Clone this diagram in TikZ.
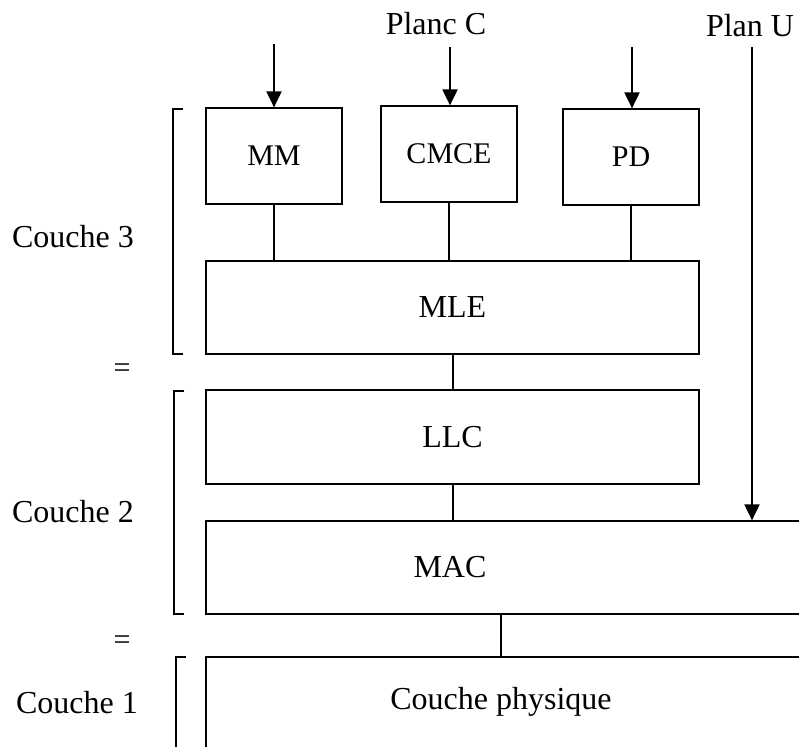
\documentclass[tikz,border=0pt]{standalone}
\usepackage{fontspec}
\setmainfont{Liberation Serif}
\usetikzlibrary{arrows.meta}

\begin{document}
\begin{tikzpicture}
  [x=0.5pt,y=-0.5pt,
   small_style/.style={draw,line width=0.6pt,minimum width=68pt,minimum height=48pt,inner sep=0pt,font=\fontsize{15}{17}\selectfont},
   layer_style/.style={draw,line width=0.6pt,minimum width=246.5pt,minimum height=47pt,inner sep=0pt,font=\fontsize{16}{19}\selectfont},
   open_style/.style={draw,line width=0.6pt,minimum width=312pt,inner sep=0pt,font=\fontsize{16}{19}\selectfont},
   text_style/.style={font=\fontsize{16}{19}\selectfont},
   edge_style/.style={draw=black,line width=1pt},
   arrow_style/.style={-{Triangle[length=8pt,width=7.5pt]},line width=1pt}]
  \useasboundingbox (0,0) rectangle (799,747);
  \clip (0,0) rectangle (799,747);
  % couche 3
  \node[small_style] (mm) at (274,156) {MM};
  \node[small_style] (cmce) at (449,154) {CMCE};
  \node[small_style] (pd) at (631,157) {PD};
  \node[layer_style,minimum height=46.5pt] (mle) at (452.5,307.5) {MLE};
  % couche 2
  \node[layer_style] (llc) at (452.5,437) {LLC};
  \node[open_style,minimum height=46.5pt,label={[text_style,xshift=-34pt]center:MAC}] (mac) at (518,567.5) {};
  % couche 1
  \node[open_style,minimum height=71.5pt,label={[text_style,name=phys_lbl,xshift=-8.5pt,yshift=13.25pt]center:Couche physique}] (phys) at (518,728.5) {};
  % plans
  \node[text_style] (planc) at (436,24) {Planc C};
  \node[text_style] (planu) at (750,26) {Plan U};
  \coordinate (mm_in) at (274,44);
  \coordinate (cmce_in) at (450,47);
  \coordinate (pd_in) at (632,47);
  \coordinate (u_in) at (752,47);
  \draw[arrow_style] (mm_in) -- (mm.north);
  \draw[arrow_style] (cmce_in) -- (cmce_in |- cmce.north);
  \draw[arrow_style] (pd_in) -- (pd_in |- pd.north);
  \draw[arrow_style] (u_in) -- (u_in |- mac.north);
  % liaisons
  \draw[edge_style] (mm.south) -- (mm.south |- mle.north);
  \draw[edge_style] (cmce.south) -- (cmce.south |- mle.north);
  \draw[edge_style] (pd.south) -- (pd.south |- mle.north);
  \draw[edge_style] (mle.south) -- (llc.north);
  \draw[edge_style] (llc.south) -- (llc.south |- mac.north);
  \draw[edge_style] (mac.south -| phys_lbl) -- (phys.north -| phys_lbl);
  % couches
  \node[text_style] (c3) at (73,237) {Couche 3};
  \node[text_style] (c2) at (73,512) {Couche 2};
  \node[text_style] (c1) at (77,703) {Couche 1};
  \node[font=\fontsize{15}{17}\selectfont] (eq1) at (122,371) {=};
  \node[font=\fontsize{15}{17}\selectfont] (eq2) at (122,643) {=};
  \draw[line width=1pt] (183,109) -| (173,354) -- (183,354);
  \draw[line width=1pt] (184,391) -| (174,614) -- (184,614);
  \draw[line width=1pt] (186,657) -| (176,760);
\end{tikzpicture}
\end{document}
